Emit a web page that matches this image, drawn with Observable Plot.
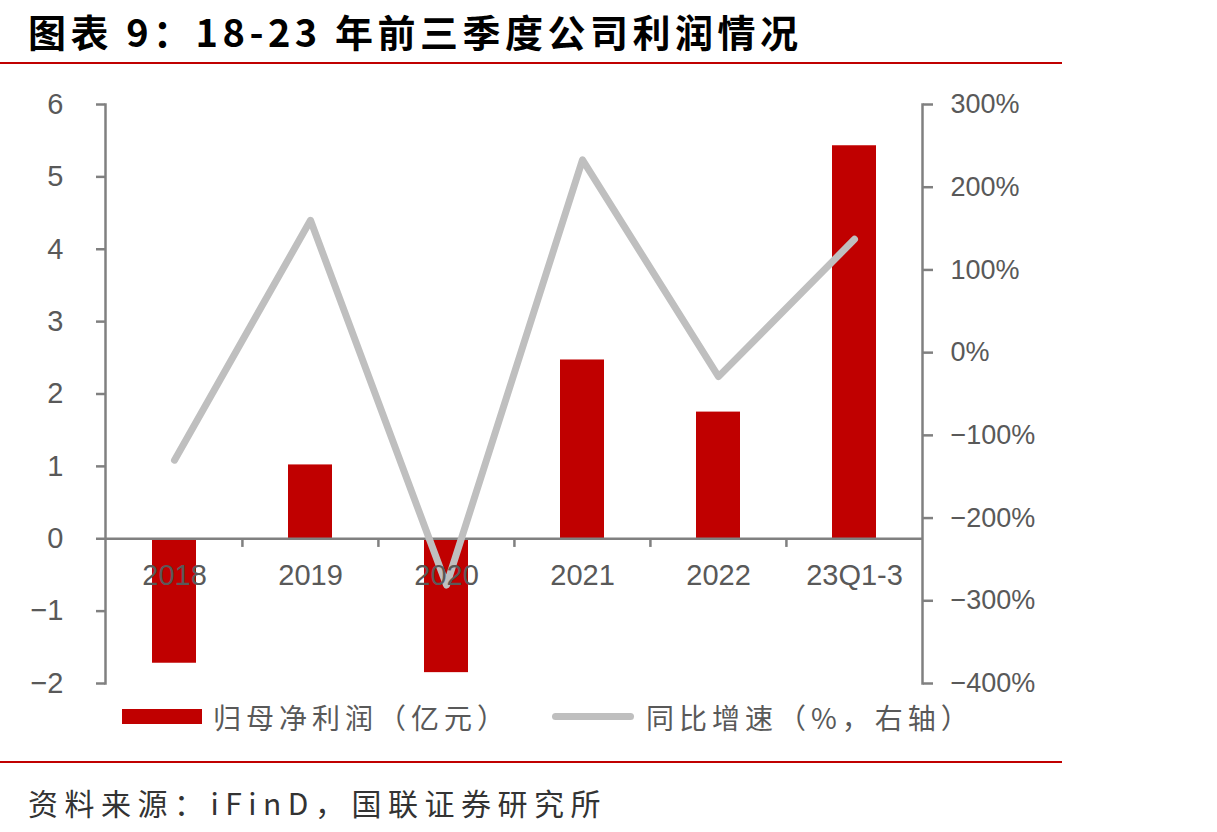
<!DOCTYPE html>
<html>
<head>
<meta charset="utf-8">
<script src="https://cdn.jsdelivr.net/npm/d3@7"></script>
<script src="https://cdn.jsdelivr.net/npm/@observablehq/plot@0.6"></script>
<style>
  html, body { margin: 0; padding: 0; background: #fff; }
  #page { position: relative; width: 1217px; height: 832px; overflow: hidden; background: #fff; }
  .title {
    position: absolute; left: 28px; top: 3px;
    font-family: "Noto Sans CJK SC", sans-serif; font-weight: 700;
    font-size: 38px; letter-spacing: 4.5px; color: #000; white-space: nowrap;
  }
  .rule { position: absolute; left: 0; width: 1062px; height: 2px; background: #c00000; }
  #chart { position: absolute; left: 0; top: 70px; }
  .legend {
    position: absolute; top: 700px; height: 34px;
    font-family: "Noto Sans CJK SC", sans-serif; font-size: 28px; letter-spacing: 5px;
    color: #595959; white-space: nowrap; line-height: 34px;
  }
  .swatch-bar { position: absolute; left: 122px; top: 709px; width: 80px; height: 15px; background: #c00000; }
  .swatch-line { position: absolute; left: 552px; top: 713px; width: 82px; height: 7px; border-radius: 4px; background: #bfbfbf; }
  .source {
    position: absolute; left: 28px; top: 780px;
    font-family: "Noto Sans CJK SC", sans-serif; font-size: 30px; letter-spacing: 6.5px;
    color: #333; white-space: nowrap;
  }
</style>
</head>
<body>
<div id="page">
  <div class="title">图表 9：18-23 年前三季度公司利润情况</div>
  <div class="rule" style="top:62px"></div>
  <div id="chart"></div>
  <div class="swatch-bar"></div>
  <div class="legend" style="left:213px">归母净利润（亿元）</div>
  <div class="swatch-line"></div>
  <div class="legend" style="left:646px">同比增速（%，右轴）</div>
  <div class="rule" style="top:761px"></div>
  <div class="source">资料来源：iFinD，国联证券研究所</div>
</div>
<script>
// Periods (first three quarters of each year)
const categories = ["2018", "2019", "2020", "2021", "2022", "23Q1-3"];
// Net profit attributable to parent, 100 million yuan (left axis)
const profit = [-1.72, 1.02, -1.85, 2.47, 1.75, 5.43];
// Year-on-year growth, % (right axis)
const growth = [-130, 160, -281, 233, -29, 137];

// Axis ticks
const leftTicks = [-2, -1, 0, 1, 2, 3, 4, 5, 6];
const rightTicks = [-400, -300, -200, -100, 0, 100, 200, 300];

// Left domain [-2, 6] shares its range with the right domain [-400%, 300%]
const leftDomain = [-2, 6];
const rightDomain = [-400, 300];
const toLeft = (p) => leftDomain[0] + (p - rightDomain[0]) / (rightDomain[1] - rightDomain[0]) * (leftDomain[1] - leftDomain[0]);
const toRight = (v) => rightDomain[0] + (v - leftDomain[0]) / (leftDomain[1] - leftDomain[0]) * (rightDomain[1] - rightDomain[0]);

const rows = categories.map((c, i) => ({cat: c, profit: profit[i], growth: growth[i]}));

const width = 1217, height = 630;
const marginLeft = 105, marginRight = 295, marginTop = 34, marginBottom = 17;
const step = (width - marginLeft - marginRight) / categories.length;

const axisColor = "#808080";
const textColor = "#595959";
const fmtMinus = (n) => (n < 0 ? "\u2212" + Math.abs(n) : String(n));

const chart = Plot.plot({
  width, height, marginLeft, marginRight, marginTop, marginBottom,
  style: {fontFamily: "'Liberation Sans', Arial, sans-serif", fontSize: "29px", color: textColor, background: "#fff"},
  x: {domain: categories, paddingInner: 0.68, paddingOuter: 0.34, axis: null},
  y: {domain: leftDomain},
  marks: [
    Plot.barY(rows, {x: "cat", y: "profit", fill: "#c00000"}),
    Plot.frame({anchor: "left", stroke: axisColor, strokeWidth: 2.5}),
    Plot.frame({anchor: "right", stroke: axisColor, strokeWidth: 2.5}),
    Plot.axisY(leftTicks, {
      anchor: "left", tickSize: 9, tickPadding: 33, stroke: axisColor, strokeWidth: 2.5,
      fill: textColor, fontSize: 29, tickFormat: fmtMinus, label: null
    }),
    Plot.axisY(rightTicks.map(toLeft), {
      anchor: "right", tickSize: 10, tickPadding: 18, stroke: axisColor, strokeWidth: 2.5,
      fill: textColor, fontSize: 27, label: null,
      tickFormat: (d) => fmtMinus(Math.round(toRight(d))) + "%"
    }),
    Plot.ruleY([0], {stroke: axisColor, strokeWidth: 2.5}),
    // small ticks between categories on the zero line
    Plot.ruleX(categories.slice(1), {x: (d) => d, y1: 0, y2: -0.12, dx: -step / 2, stroke: axisColor, strokeWidth: 2.5}),
    Plot.line(rows, {
      x: "cat", y: (d) => toLeft(d.growth), stroke: "#bfbfbf", strokeWidth: 7,
      strokeLinecap: "round", strokeLinejoin: "round"
    }),
    Plot.text(rows, {x: "cat", y: () => 0, dy: 37, text: "cat", fill: textColor, fontSize: 29})
  ]
});
document.getElementById("chart").appendChild(chart);
</script>
</body>
</html>
